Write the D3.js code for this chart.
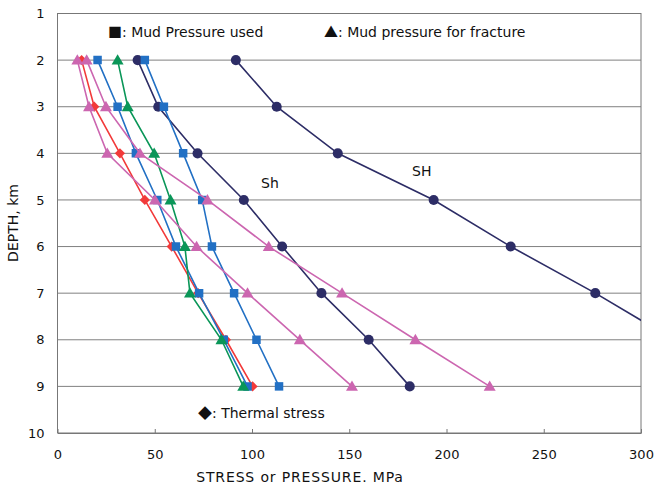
<!DOCTYPE html>
<html>
<head>
<meta charset="utf-8">
<script src="https://cdn.jsdelivr.net/npm/d3@7"></script>
<style>
  body { margin:0; background:#fff; }
  svg text { font-family: "DejaVu Sans", "Liberation Sans", sans-serif; fill:#111; }
  svg .glyph { font-family: "Noto Sans CJK JP", sans-serif; }
</style>
</head>
<body>
<div id="chart"></div>
<script>
// depth (km) for each reading, values in MPa
const depths = [2, 3, 4, 5, 6, 7, 8, 9];
const shMaxVals = [91.7, 112.7, 144.1, 193.4, 233, 276.5, 317, null];
const shMinVals = [41.2, 51.8, 72.0, 95.8, 115.5, 135.7, 160.0, 181.1];
const thermalVals = [12.4, 18.9, 32.1, 44.9, 58.7, 72.3, 86.6, 100.3];
const mudUsedA = [20.6, 30.9, 40.3, 51.3, 60.9, 72.8, 85.5, 97.7];
const mudUsedB = [44.9, 54.7, 64.6, 74.4, 79.4, 90.8, 102.3, 113.9];
const greenVals = [30.9, 36.1, 49.7, 58.1, 65.5, 68.1, 84.3, 95.5];
const fracA = [10.2, 16.2, 25.6, 50.1, 71.5, 97.7, 124.6, 151.4];
const fracB = [15.0, 24.9, 42.4, 77.1, 108.6, 146.3, 184.0, 222.2];
const xTicks = [0, 50, 100, 150, 200, 250, 300];
const yTicks = [1, 2, 3, 4, 5, 6, 7, 8, 9, 10];

const series = [
  {name:'SH', vals: shMaxVals, color:'#2d2d66', shape:'circle'},
  {name:'Sh', vals: shMinVals, color:'#2d2d66', shape:'circle'},
  {name:'thermal', vals: thermalVals, color:'#f23a3a', shape:'diamond'},
  {name:'mudA', vals: mudUsedA, color:'#2270c4', shape:'square'},
  {name:'mudB', vals: mudUsedB, color:'#2270c4', shape:'square'},
  {name:'green', vals: greenVals, color:'#0a9658', shape:'triangle'},
  {name:'fracA', vals: fracA, color:'#cc66b0', shape:'triangle'},
  {name:'fracB', vals: fracB, color:'#cc66b0', shape:'triangle'}
];

const width = 655, height = 486;
const margin = {top:13.5, right:14, bottom:53, left:57.5};
const innerW = width - margin.left - margin.right;
const innerH = height - margin.top - margin.bottom;

const svg = d3.select('#chart').append('svg')
  .attr('width', width).attr('height', height);
const g = svg.append('g')
  .attr('transform', `translate(${margin.left},${margin.top})`);

const x = d3.scaleLinear().domain([0, 300]).range([0, innerW]);
const y = d3.scaleLinear().domain([1, 10]).range([0, innerH]);

// horizontal grid
g.append('g').selectAll('line')
  .data(yTicks.filter(d => d > 1 && d < 10))
  .enter().append('line')
  .attr('x1', 0).attr('x2', innerW)
  .attr('y1', d => y(d)).attr('y2', d => y(d))
  .attr('stroke', '#808080').attr('stroke-width', 1);

// frame
g.append('rect')
  .attr('width', innerW).attr('height', innerH)
  .attr('fill', 'none').attr('stroke', '#777').attr('stroke-width', 1);

// axes
const xAxis = g.append('g')
  .attr('transform', `translate(0,${innerH})`)
  .call(d3.axisBottom(x).tickValues(xTicks).tickSizeInner(-4).tickSizeOuter(0).tickPadding(17));
xAxis.select('.domain').attr('stroke', '#777');
xAxis.selectAll('line').attr('stroke', '#777');
xAxis.selectAll('text').attr('font-size', 13).attr('font-family', '"Liberation Sans", sans-serif');

const yAxis = g.append('g')
  .call(d3.axisLeft(y).tickValues(yTicks).tickSize(0).tickPadding(13));
yAxis.select('.domain').remove();
yAxis.selectAll('text').attr('font-size', 13).attr('font-family', '"Liberation Sans", sans-serif');

// clip for lines going past 300
svg.append('defs').append('clipPath').attr('id', 'plotclip')
  .append('rect').attr('width', innerW).attr('height', innerH);

const plot = g.append('g').attr('clip-path', 'url(#plotclip)');

const line = d3.line()
  .defined(d => d.v != null)
  .x(d => x(d.v)).y(d => y(d.depth));

const symbols = {
  circle: d3.symbol().type(d3.symbolCircle).size(80),
  square: d3.symbol().type(d3.symbolSquare).size(72),
  diamond: d3.symbol().type(d3.symbolSquare).size(52),
  triangle: d3.symbol().type(d3.symbolTriangle).size(62)
};

series.forEach(s => {
  const pts = depths.map((dp, i) => ({depth: dp, v: s.vals[i]}));
  plot.append('path')
    .datum(pts)
    .attr('d', line)
    .attr('fill', 'none')
    .attr('stroke', s.color)
    .attr('stroke-width', 1.6);
  plot.selectAll(null)
    .data(pts.filter(d => d.v != null))
    .enter().append('path')
    .attr('d', symbols[s.shape])
    .attr('transform', d => `translate(${x(d.v)},${y(d.depth) + (s.shape === 'triangle' ? 1 : 0)})` + (s.shape === 'diamond' ? ' rotate(45)' : ''))
    .attr('fill', s.color);
});

// annotations: glyph + caption
function note(px, py, glyph, caption) {
  const t = svg.append('text').attr('x', px).attr('y', py).attr('font-size', 14);
  t.append('tspan').attr('class', 'glyph').text(glyph);
  t.append('tspan').text(caption);
}
note(108, 37, '\u25A0', ': Mud Pressure used');
note(324, 37, '\u25B2', ': Mud pressure for fracture');
note(198, 418, '\u25C6', ': Thermal stress');
svg.append('text').attr('x', 261).attr('y', 188).attr('font-size', 14).text('Sh');
svg.append('text').attr('x', 412).attr('y', 176).attr('font-size', 14).text('SH');

// axis titles
svg.append('text')
  .attr('x', 300).attr('y', 482)
  .attr('text-anchor', 'middle').attr('font-size', 14)
  .attr('letter-spacing', 0.85)
  .text('STRESS or PRESSURE. MPa');
svg.append('text')
  .attr('transform', 'rotate(-90)')
  .attr('x', -223).attr('y', 18)
  .attr('text-anchor', 'middle').attr('font-size', 14)
  .text('DEPTH, km');
</script>
</body>
</html>
